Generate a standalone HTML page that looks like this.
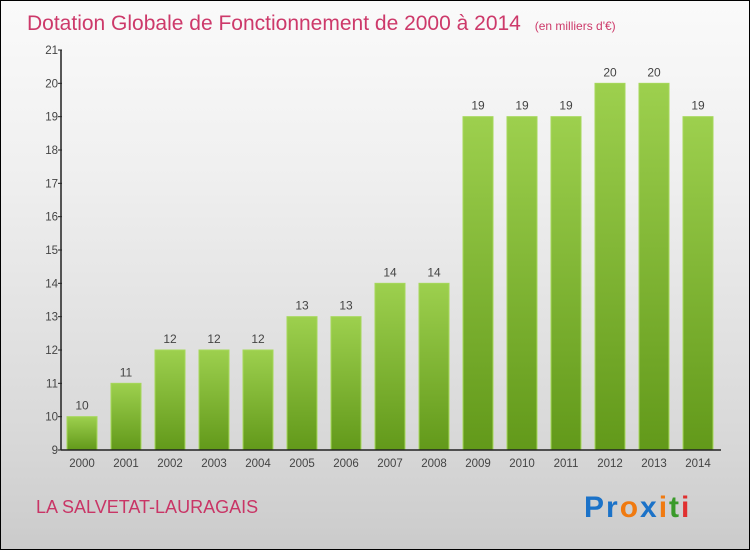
<!DOCTYPE html>
<html><head><meta charset="utf-8"><style>
body{margin:0;}
#wrap{width:748px;height:548px;border:1px solid #000;background:linear-gradient(#fafafa,#f0f0f0 30%,#d8d8d8 80%,#cbcbcb);position:relative;font-family:"Liberation Sans",sans-serif;overflow:hidden}
</style></head><body>
<div id="wrap">
<svg width="748" height="548">
<defs><linearGradient id="g" x1="0" y1="0" x2="0" y2="1"><stop offset="0" stop-color="#9dd04e"/><stop offset="1" stop-color="#62991a"/></linearGradient></defs>
<text x="26" y="29" font-size="21" fill="#c8245a" fill-opacity="0.9">Dotation Globale de Fonctionnement de 2000 à 2014 <tspan font-size="12" dx="8">(en milliers d'€)</tspan></text>
<g id="plot"></g>
<text x="35" y="512" font-size="18" fill="#c8245a" fill-opacity="0.9">LA SALVETAT-LAURAGAIS</text>
<text x="583" y="516" font-size="30" font-weight="bold" letter-spacing="2"><tspan fill="#1b72c8">Pr</tspan><tspan fill="#f07a10">o</tspan><tspan fill="#1b72c8">x</tspan><tspan fill="#f07a10">i</tspan><tspan fill="#3a9a2a">t</tspan><tspan fill="#e03030">i</tspan></text>
</svg></div>
<script>
const years=["2000","2001","2002","2003","2004","2005","2006","2007","2008","2009","2010","2011","2012","2013","2014"];
const values=[10,11,12,12,12,13,13,14,14,19,19,19,20,20,19];
const yTicks=[9,10,11,12,13,14,15,16,17,18,19,20,21];
const ns="http://www.w3.org/2000/svg";
const g=document.getElementById('plot');
const y=v=>449-(v-9)*(400/12);
const x=i=>81+i*44;
function mk(t,a,txt){const e=document.createElementNS(ns,t);for(const k in a)e.setAttribute(k,a[k]);if(txt!=null)e.textContent=txt;g.appendChild(e);return e;}
values.forEach((v,i)=>{
 const r=mk('rect',{x:x(i)-15,y:y(v),width:30,height:y(9)-y(v),fill:'url(#g)',stroke:'#a6d85a','stroke-width':1});
 
 
 const t=mk('text',{x:x(i),y:y(v)-7,'text-anchor':'middle','font-size':12,fill:'#444'},String(v));
 
 
 const xl=mk('text',{x:x(i),y:466,'text-anchor':'middle','font-size':11.5,fill:'#444'},years[i]);
 
 
});
yTicks.forEach(v=>{
 const l=mk('line',{x1:57,x2:61,y1:y(v),y2:y(v),stroke:'#222'});
 
 
 const t=mk('text',{x:57,y:y(v)+4,'text-anchor':'end','font-size':11.5,fill:'#444'},String(v));
 
 
});
const ya=mk('line',{x1:60,x2:60,y1:y(21),y2:y(9),stroke:'#222','stroke-width':1.5});


const xa=mk('line',{x1:60,x2:720,y1:y(9),y2:y(9),stroke:'#222','stroke-width':1.5});


</script>
</body></html>
